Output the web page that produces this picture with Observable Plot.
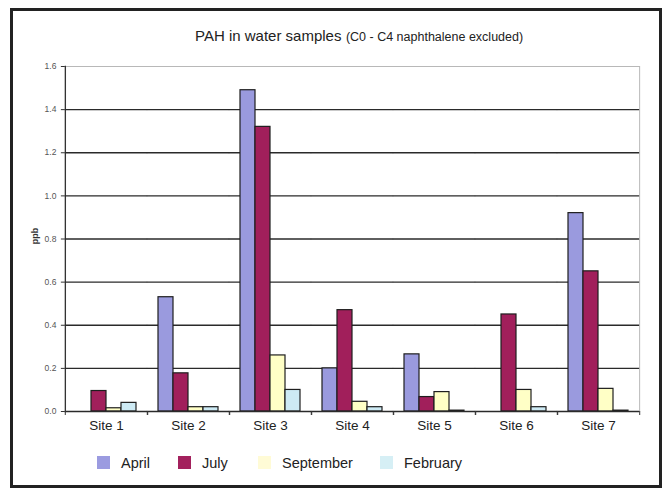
<!DOCTYPE html>
<html>
<head>
<meta charset="utf-8">
<script src="https://cdn.jsdelivr.net/npm/d3@7"></script>
<script src="https://cdn.jsdelivr.net/npm/@observablehq/plot@0.6"></script>
<style>
  html, body { margin: 0; padding: 0; background: #fff; }
  body { width: 670px; height: 495px; position: relative; font-family: "Liberation Sans", Arial, sans-serif; }
  #card { position: absolute; left: 10px; top: 8px; width: 646px; height: 474px; border: 3px solid #222; background: #fff; }
  #title { position: absolute; left: 182px; top: 16px; white-space: nowrap; color: #222; line-height: 18px; }
  #title .main { font-size: 15px; }
  #title .sub { font-size: 12.5px; }
  #chart { position: absolute; left: 0; top: 45px; }
  #ylab { position: absolute; left: 14px; top: 220px; font-size: 9px; font-weight: bold; color: #333; transform: rotate(-90deg); transform-origin: center; }
  .item { position: absolute; top: 443px; height: 18px; font-size: 14.5px; color: #222; line-height: 18px; }
  .item .sw { position: absolute; left: 0; top: 2px; width: 13px; height: 13px; }
  .item .lb { position: absolute; left: 24px; top: 0; white-space: nowrap; }
</style>
</head>
<body>
<div id="card">
  <div id="title"><span class="main">PAH in water samples</span> <span class="sub">(C0 - C4 naphthalene excluded)</span></div>
  <div id="chart"></div>
  <div id="ylab">ppb</div>
  <div id="legend"></div>
</div>
<script>
// Total PAH (ppb) per sampling site and month
const sites = ["Site 1", "Site 2", "Site 3", "Site 4", "Site 5", "Site 6", "Site 7"];
const months = ["April", "July", "September", "February"];
const april = [null, 0.53, 1.49, 0.20, 0.265, null, 0.92];
const july = [0.095, 0.177, 1.32, 0.47, 0.067, 0.45, 0.65];
const september = [0.015, 0.02, 0.26, 0.045, 0.09, 0.10, 0.105];
const february = [0.04, 0.02, 0.10, 0.02, 0.004, 0.02, 0.004];
const yTicks = [0, 0.2, 0.4, 0.6, 0.8, 1.0, 1.2, 1.4, 1.6];

const monthColors = ["#9a9ade", "#a11f5b", "#ffffc6", "#cdeaf4"];
const swatchColors = ["#9b9be0", "#a3215d", "#fffbd6", "#d6eff5"];

const series = [april, july, september, february];
const rows = [];
sites.forEach((site, i) => {
  months.forEach((month, j) => {
    const v = series[j][i];
    if (v != null) rows.push({site, month, value: v});
  });
});

// Facet bands: the gap between site groups is split in half on each side,
// so the gridlines of neighbouring facets meet and read as one line, and
// the y axis and plot border are pushed out from the facets to the plot edge.
const W = 646, ML = 50, MR = 19, padIn = 0.27;
const step = (W - ML - MR) / sites.length;
const halfGap = step * padIn / 2;
const halfBand = (step - 2 * halfGap) / 2;

const chart = Plot.plot({
  width: W,
  height: 384,
  marginLeft: ML,
  marginRight: MR,
  marginTop: 10,
  marginBottom: 29,
  style: {fontFamily: "Liberation Sans, Arial, sans-serif", background: "transparent"},
  fx: {domain: sites, paddingInner: padIn, paddingOuter: padIn / 2, label: null, axis: null},
  x: {domain: months, padding: 0, axis: null},
  y: {domain: [0, 1.6], axis: null},
  color: {domain: months, range: monthColors},
  marks: [
    Plot.frame({facet: "super", stroke: "#b8b8b8", strokeWidth: 1, insetLeft: -halfGap, insetRight: -halfGap}),
    Plot.frame({facet: "super", anchor: "left", stroke: "#333", strokeWidth: 1.3, insetLeft: -halfGap, insetRight: -halfGap}),
    Plot.ruleY(yTicks.filter(t => t > 0 && t < 1.6), {stroke: "#2a2a2a", strokeWidth: 1.4, insetLeft: -halfGap, insetRight: -halfGap}),
    Plot.barY(rows, {fx: "site", x: "month", y: "value", fill: "month", stroke: "#1e1e1e", strokeWidth: 1.2}),
    Plot.ruleY([0], {stroke: "#2a2a2a", strokeWidth: 1.5, insetLeft: -halfGap, insetRight: -halfGap}),
    Plot.axisY({ticks: yTicks, tickFormat: d3.format(".1f"), fontSize: 8.5, fill: "#555", tickSize: 4, tickPadding: 5, stroke: "#333", label: null, dx: -halfGap}),
    // small category-boundary ticks under the baseline
    Plot.axisFx({anchor: "bottom", tickSize: 4, stroke: "#333", tickFormat: () => "", label: null, dx: -(halfBand + halfGap)}),
    Plot.axisFx({anchor: "bottom", tickSize: 4, stroke: "#333", tickFormat: () => "", label: null, dx: halfBand + halfGap}),
    Plot.axisFx({anchor: "bottom", fontSize: 13.5, fill: "#222", tickSize: 0, tickPadding: 9, label: null})
  ]
});
document.getElementById("chart").appendChild(chart);

// Legend: one swatch and name per month
const legendLeft = [84, 165, 245, 367];
const legend = document.getElementById("legend");
months.forEach((m, i) => {
  const item = document.createElement("div");
  item.className = "item";
  item.style.left = legendLeft[i] + "px";
  item.innerHTML = `<span class="sw" style="background:${swatchColors[i]}"></span><span class="lb">${m}</span>`;
  legend.appendChild(item);
});
</script>
</body>
</html>
